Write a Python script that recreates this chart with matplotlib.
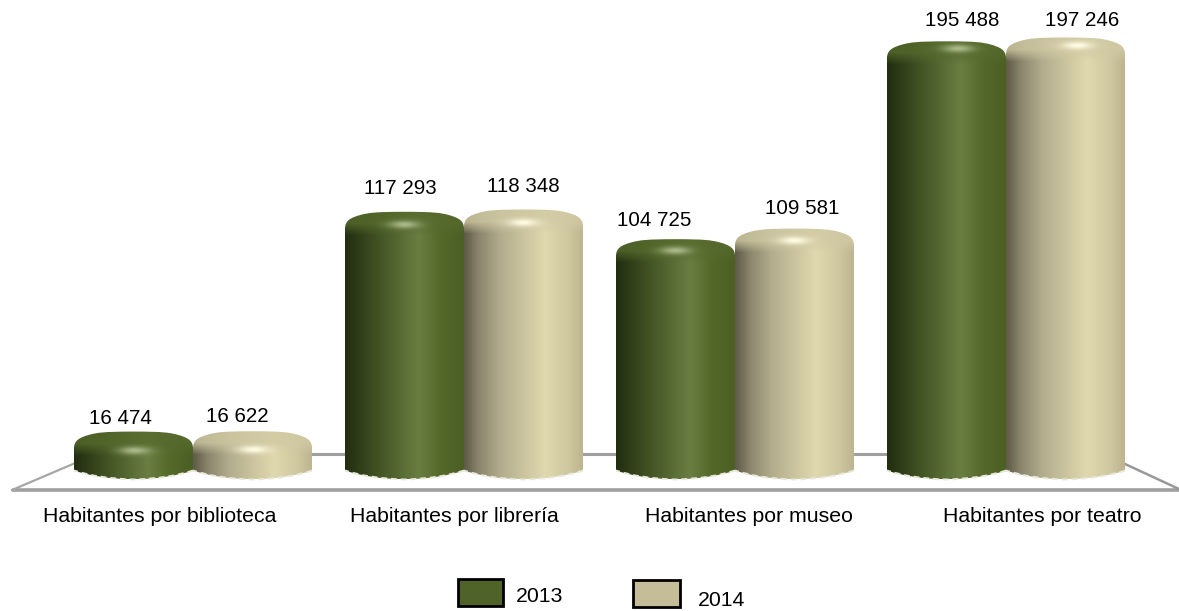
import numpy as np
import matplotlib
matplotlib.use('Agg')
import matplotlib.pyplot as plt
from matplotlib.patches import PathPatch, Rectangle
from matplotlib.path import Path

plt.rcParams['font.family'] = ['Liberation Sans', 'DejaVu Sans']

# Data
categories = ['Habitantes por biblioteca', 'Habitantes por librería', 'Habitantes por museo', 'Habitantes por teatro']
values_2013 = [16474, 117293, 104725, 195488]
values_2014 = [16622, 118348, 109581, 197246]
labels_2013 = ['16 474', '117 293', '104 725', '195 488']
labels_2014 = ['16 622', '118 348', '109 581', '197 246']
years = ['2013', '2014']

W, H = 1179, 611
PX_PER_CAT = 271.0
PX_PER_VAL = 0.00218
X0, Y0 = 193.0, 467.5
BAR_W = 119 / PX_PER_CAT

# gradient stops: position across bar, colour
green_stops = [(0.0, '#222d10'), (0.3, '#445625'), (0.62, '#6a7e42'), (0.8, '#55692b'), (1.0, '#4c5f24')]
tan_stops = [(0.0, '#5f5b48'), (0.12, '#8a856c'), (0.3, '#b2ac8d'), (0.68, '#e0d8ae'), (0.88, '#cfc79f'), (1.0, '#bdb591')]
green_flat = '#4f6228'
tan_flat = '#c4bd97'
green_dome = '#556a2c'
tan_dome = '#d0c9a3'

# hand placed bits, the labels and spots do not sit evenly in the source chart
label_pos_2013 = [(120, 418), (400, 189), (654, 220), (962, 21)]
label_pos_2014 = [(237, 417), (523, 187), (802, 208), (1082, 21)]
cat_label_x = [160, 454, 749, 1042]
spot_x = [0.51, 0.5, 0.5, 0.6]
spot_y = [19, 13, 12, 8]


def hex2rgb(c):
    return np.array(matplotlib.colors.to_rgb(c))


def body_image(stops, dome_col, nx, ny, dome_px, highlight, sx, sy):
    pos = [s[0] for s in stops]
    cols = np.array([hex2rgb(s[1]) for s in stops])
    xs = np.linspace(0, 1, nx)
    row = np.stack([np.interp(xs, pos, cols[:, i]) for i in range(3)], axis=1)
    img = np.repeat(row[None, :, :], ny, axis=0)
    yy = np.arange(ny)[:, None]
    # dome band at the top, flatter colour than the body
    t = np.clip((yy - dome_px * 0.5) / (dome_px * 0.5), 0, 1)[..., None]
    mid = hex2rgb(dome_col)[None, None, :] * 0.8 + row[None, :, :] * 0.2
    img = img * t + (mid * (1 - t))
    # highlight spot on the dome
    xx = xs[None, :] * nx
    d = ((xx - nx * sx) / (nx * 0.13)) ** 2 + ((yy - sy) / 4.0) ** 2
    spot = np.exp(-d)[..., None]
    img = img * (1 - spot) + hex2rgb(highlight)[None, None, :] * spot
    return np.clip(img, 0, 1)


def cylinder(ax, xc, value, stops, dome_col, highlight, sx, sy):
    dx = BAR_W / 2
    x0, x1 = xc - dx, xc + dx
    top = value
    base = 0 - 3 / PX_PER_VAL        # edge of the bottom ellipse
    low = 0 - 12 / PX_PER_VAL        # centre of the bottom ellipse
    ux = 1 / PX_PER_CAT
    uy = 1 / PX_PER_VAL
    verts = [
        (x0, base), (x0, top - 17 * uy),
        (x0, top - 9 * uy), (x0 + 5 * ux, top - 6 * uy), (x0 + 16 * ux, top - 3 * uy),
        (x0 + 24 * ux, top - 1 * uy), (xc - 30 * ux, top), (xc, top),
        (xc + 30 * ux, top), (x1 - 24 * ux, top - 1 * uy), (x1 - 16 * ux, top - 3 * uy),
        (x1 - 5 * ux, top - 6 * uy), (x1, top - 9 * uy), (x1, top - 17 * uy),
        (x1, base),
        (x1 - dx * 0.4, low - (low - base) * 0.1), (xc, low),
        (x0 + dx * 0.4, low - (low - base) * 0.1), (x0, base),
        (x0, base),
    ]
    codes = [Path.MOVETO, Path.LINETO] + [Path.CURVE4] * 12 + [Path.LINETO] + [Path.CURVE3] * 4 + [Path.CLOSEPOLY]
    path = Path(verts, codes)
    patch = PathPatch(path, facecolor='none', edgecolor='none', transform=ax.transData)
    ax.add_patch(patch)
    ny = int((top - low) * PX_PER_VAL) + 1
    img = body_image(stops, dome_col, 120, ny, 24, highlight, sx, sy)
    im = ax.imshow(img, extent=(x0, x1, low, top), origin='upper', aspect='auto',
                   interpolation='bilinear', zorder=3)
    im.set_clip_path(patch)
    # pale dashed rim along the bottom
    rim = Path(verts[14:19], [Path.MOVETO] + [Path.CURVE3] * 4)
    ax.add_patch(PathPatch(rim, facecolor='none', edgecolor='#e6e8d8', lw=1.4,
                           linestyle=(0, (3, 2)), zorder=4))


fig = plt.figure(figsize=(W / 100, H / 100), dpi=100)

# pixel-coordinate layer for floor, labels and legend
bg = fig.add_axes([0, 0, 1, 1])
bg.set_xlim(0, W)
bg.set_ylim(H, 0)
bg.axis('off')

bg.plot([12, 1179], [490, 490], color='#a0a0a0', lw=2.6, solid_capstyle='butt')
bg.plot([12, 80], [490, 461], color='#a6a6a6', lw=1.6)
bg.plot([1125, 1179], [464, 489], color='#999999', lw=1.8)
bg.plot([300, 900], [454, 454], color='#a0a0a0', lw=2.2)

# chart layer
ax = fig.add_axes([0, 0, 1, 1])
ax.patch.set_alpha(0)
ax.axis('off')

for i in range(len(categories)):
    cylinder(ax, i - BAR_W / 2, values_2013[i], green_stops, green_dome, '#a9b98a', spot_x[i], spot_y[i])
    cylinder(ax, i + BAR_W / 2, values_2014[i], tan_stops, tan_dome, '#fffbe2', spot_x[i], spot_y[i])
ax.set_xlim(-X0 / PX_PER_CAT, (W - X0) / PX_PER_CAT)
ax.set_ylim((Y0 - H) / PX_PER_VAL, Y0 / PX_PER_VAL)

# value labels on top of everything
top_ax = fig.add_axes([0, 0, 1, 1])
top_ax.set_xlim(0, W)
top_ax.set_ylim(H, 0)
top_ax.axis('off')
for txt, (px, py) in zip(labels_2013 + labels_2014, label_pos_2013 + label_pos_2014):
    top_ax.text(px, py, txt, ha='center', va='center', fontsize=14.8, color='black')

# category labels
for name, px in zip(categories, cat_label_x):
    bg.text(px, 517, name, ha='center', va='center', fontsize=15.3, color='black')

# legend
bg.add_patch(Rectangle((457.5, 578.5), 45, 27, facecolor=green_flat, edgecolor='black', lw=2))
bg.add_patch(Rectangle((632.5, 580), 47, 27, facecolor=tan_flat, edgecolor='black', lw=2))
bg.text(516, 597, years[0], ha='left', va='center', fontsize=15.3)
bg.text(698, 601, years[1], ha='left', va='center', fontsize=15.3)

fig.savefig('out.png', dpi=100)
